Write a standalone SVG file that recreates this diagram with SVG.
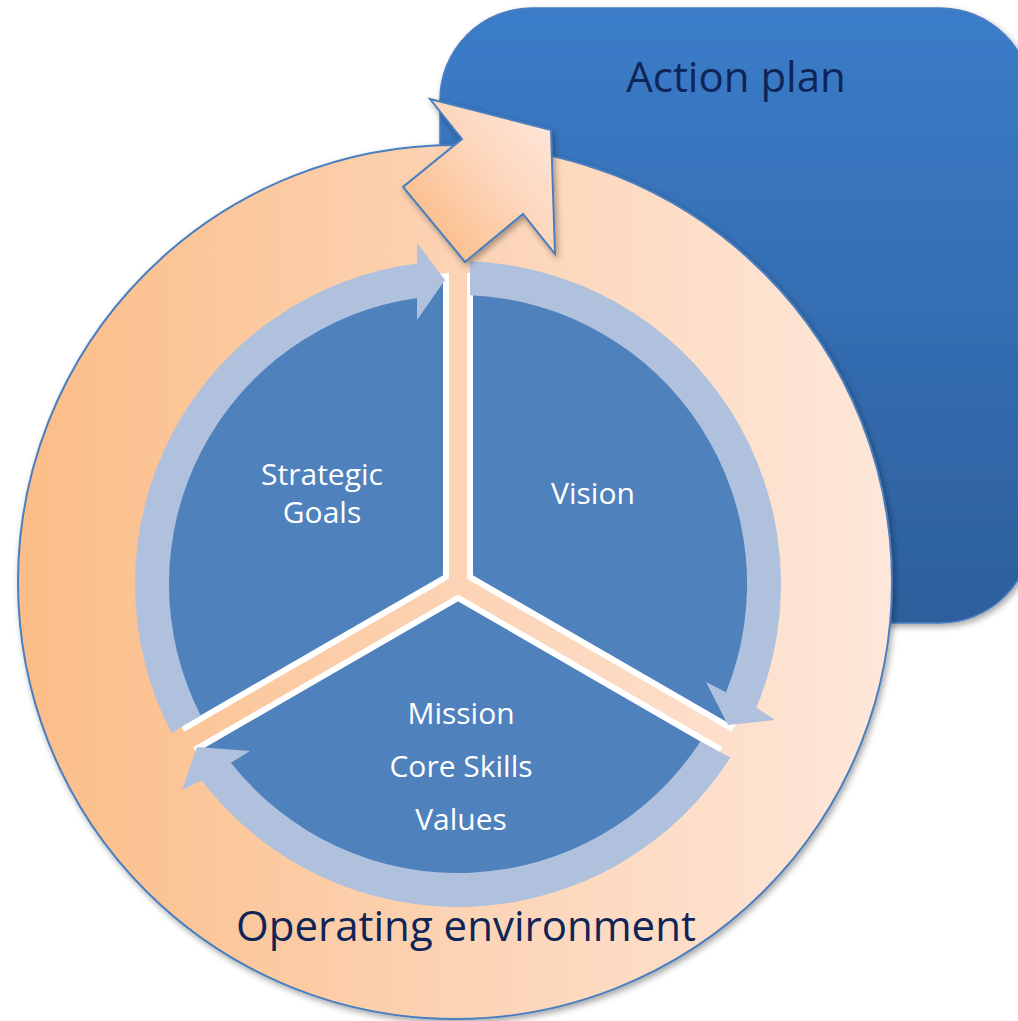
<svg xmlns="http://www.w3.org/2000/svg" width="1018" height="1021" viewBox="0 0 1018 1021">
  <defs>
    <linearGradient id="gRect" x1="0" y1="0" x2="0" y2="1">
      <stop offset="0" stop-color="#3b7cc9"/>
      <stop offset="1" stop-color="#2d5f9c"/>
    </linearGradient>
    <linearGradient id="gCircle" x1="0" y1="0" x2="1" y2="0">
      <stop offset="0" stop-color="#fbbd87"/>
      <stop offset="0.5" stop-color="#fcd3b4"/>
      <stop offset="1" stop-color="#fee7da"/>
    </linearGradient>
    <linearGradient id="gArrow" x1="0.1" y1="0.85" x2="0.95" y2="0.1">
      <stop offset="0" stop-color="#fbbb85"/>
      <stop offset="0.55" stop-color="#fdd6bc"/>
      <stop offset="1" stop-color="#fee6d8"/>
    </linearGradient>
    <filter id="shadow" x="-10%" y="-10%" width="125%" height="125%">
      <feDropShadow dx="2" dy="3" stdDeviation="3" flood-color="#000" flood-opacity="0.35"/>
    </filter>
    <style>
      .big { font-family: "Open Sans", "Liberation Sans", sans-serif; font-size: 42px; fill: #0f2557; text-anchor: middle; }
      .lbl { font-family: "Open Sans", "Liberation Sans", sans-serif; font-size: 30px; fill: #ffffff; text-anchor: middle; }
      .wedge { fill: #4f81bd; stroke: #ffffff; stroke-width: 6; stroke-linejoin: miter; }
      .cyc { fill: #b0c1dd; stroke: none; }
    </style>
  </defs>

  <g id="action-plan">
    <rect x="440" y="8" width="592" height="615" rx="92" ry="92" fill="url(#gRect)" stroke="#4a7ebf" stroke-width="1.5" filter="url(#shadow)"/>
    <text class="big" x="736" y="92">Action plan</text>
  </g>

  <g id="operating-environment">
    <circle cx="455" cy="582" r="437" fill="url(#gCircle)" stroke="#4a7ebf" stroke-width="2" filter="url(#shadow)"/>
    <text class="big" x="466" y="941">Operating environment</text>
  </g>

  <g id="strategic-goals">
    <path class="wedge" d="M 446,577.07 L 185.5,727.5 A 308 308 0 0 1 446,276.2 Z"/>
    <text class="lbl" x="322" y="485">Strategic</text>
    <text class="lbl" x="322" y="523">Goals</text>
  </g>

  <g id="vision">
    <path class="wedge" d="M 470,577.07 L 470,276.2 A 308 308 0 0 1 730.5,727.5 Z"/>
    <text class="lbl" x="593" y="504">Vision</text>
  </g>

  <g id="mission">
    <path class="wedge" d="M 458,597.86 L 718.5,748.3 A 308 308 0 0 1 197.5,748.3 Z"/>
    <text class="lbl" x="461" y="724">Mission</text>
    <text class="lbl" x="461" y="777">Core Skills</text>
    <text class="lbl" x="461" y="830">Values</text>
  </g>

  <g id="connectors">
    <path class="cyc" d="M 171.5,733.1 A 323 323 0 0 1 417,263.6 L 417,243 L 445,280 L 417,320 L 417,297.9 A 289 289 0 0 0 200.5,715.2 Z"/>
    <path class="cyc" d="M 470,261.2 A 323 323 0 0 1 756.4,707.6 L 775,720 L 728,725 L 706,682 L 726,692.3 A 289 289 0 0 0 470,295.25 Z"/>
    <path class="cyc" d="M 730.4,757.5 A 323 323 0 0 1 201.7,780.6 L 182,790 L 197,747 L 250,751 L 230.9,762.7 A 289 289 0 0 0 700.4,741.4 Z"/>
    <polygon points="430,99 551,130 555,254 523,214 465,262 403,187 462,139" fill="url(#gArrow)" stroke="#4a7ebf" stroke-width="2" stroke-linejoin="miter" filter="url(#shadow)"/>
  </g>
</svg>
